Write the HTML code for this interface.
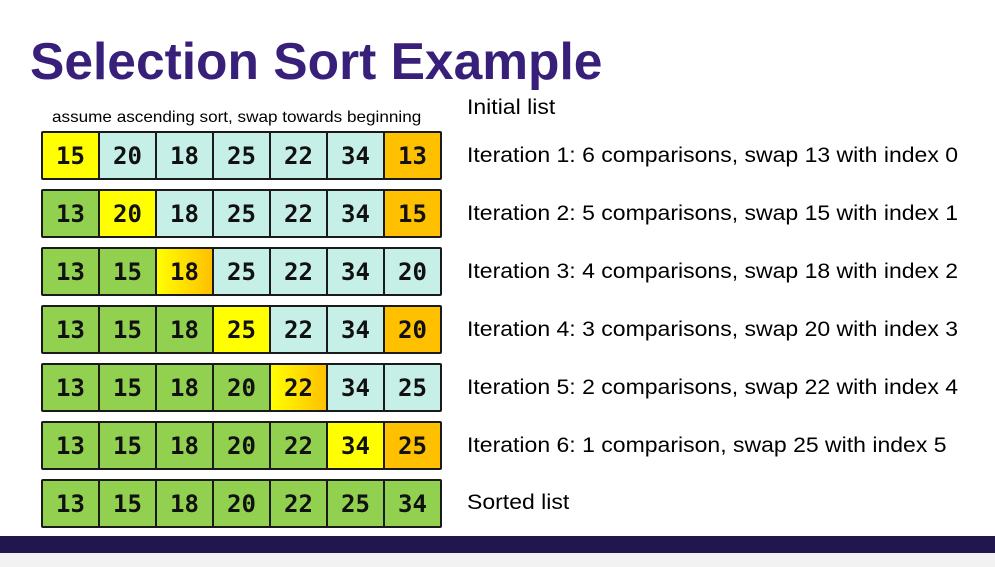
<!DOCTYPE html>
<html><head><style>
body{margin:0;width:995px;height:567px;background:#fff;position:relative;overflow:hidden;font-family:"Liberation Sans",sans-serif}
.t{position:absolute;left:30px;top:31px;font-size:51.5px;font-weight:bold;color:#38207a;white-space:nowrap}
.sub{position:absolute;left:52px;top:109px;font-size:16px;color:#000;white-space:nowrap;transform:scaleX(1.07);transform-origin:left}
.row{position:absolute;left:41px;width:397px;height:45px;border:2px solid #1a1a1a;border-radius:2px;display:flex}
.c{flex:1;border-right:2px solid #1a1a1a;display:flex;align-items:center;justify-content:center;font-family:"DejaVu Sans Mono","Liberation Mono",monospace;font-weight:bold;font-size:24px;color:#111}
.c:last-child{border-right:none}
.Y{background:#ffff00}.T{background:#c6efe7}.O{background:#ffc000}.G{background:#92d050}.YO{background:linear-gradient(90deg,#ffff00,#ffc000)}
.l{position:absolute;left:467px;font-size:21.5px;color:#000;white-space:nowrap;transform:scaleX(1.07);transform-origin:left}
.bar{position:absolute;left:0;top:536px;width:995px;height:17px;background:#22164f}
.ft{position:absolute;left:0;top:553px;width:995px;height:14px;background:#f2f2f2}
</style></head><body>
<div class="t">Selection Sort Example</div>
<div class="sub">assume ascending sort, swap towards beginning</div>
<div class="l" style="top:95px">Initial list</div>

<div class="row" style="top:131px"><div class="c Y">15</div><div class="c T">20</div><div class="c T">18</div><div class="c T">25</div><div class="c T">22</div><div class="c T">34</div><div class="c O">13</div></div>
<div class="row" style="top:189px"><div class="c G">13</div><div class="c Y">20</div><div class="c T">18</div><div class="c T">25</div><div class="c T">22</div><div class="c T">34</div><div class="c O">15</div></div>
<div class="row" style="top:247px"><div class="c G">13</div><div class="c G">15</div><div class="c YO">18</div><div class="c T">25</div><div class="c T">22</div><div class="c T">34</div><div class="c T">20</div></div>
<div class="row" style="top:305px"><div class="c G">13</div><div class="c G">15</div><div class="c G">18</div><div class="c Y">25</div><div class="c T">22</div><div class="c T">34</div><div class="c O">20</div></div>
<div class="row" style="top:363px"><div class="c G">13</div><div class="c G">15</div><div class="c G">18</div><div class="c G">20</div><div class="c YO">22</div><div class="c T">34</div><div class="c T">25</div></div>
<div class="row" style="top:421px"><div class="c G">13</div><div class="c G">15</div><div class="c G">18</div><div class="c G">20</div><div class="c G">22</div><div class="c Y">34</div><div class="c O">25</div></div>
<div class="row" style="top:479px"><div class="c G">13</div><div class="c G">15</div><div class="c G">18</div><div class="c G">20</div><div class="c G">22</div><div class="c G">25</div><div class="c G">34</div></div>

<div class="l" style="top:143px">Iteration 1: 6 comparisons, swap 13 with index 0</div>
<div class="l" style="top:201px">Iteration 2: 5 comparisons, swap 15 with index 1</div>
<div class="l" style="top:259px">Iteration 3: 4 comparisons, swap 18 with index 2</div>
<div class="l" style="top:317px">Iteration 4: 3 comparisons, swap 20 with index 3</div>
<div class="l" style="top:375px">Iteration 5: 2 comparisons, swap 22 with index 4</div>
<div class="l" style="top:433px">Iteration 6: 1 comparison, swap 25 with index 5</div>
<div class="l" style="top:490px">Sorted list</div>
<div class="bar"></div><div class="ft"></div>
</body></html>
